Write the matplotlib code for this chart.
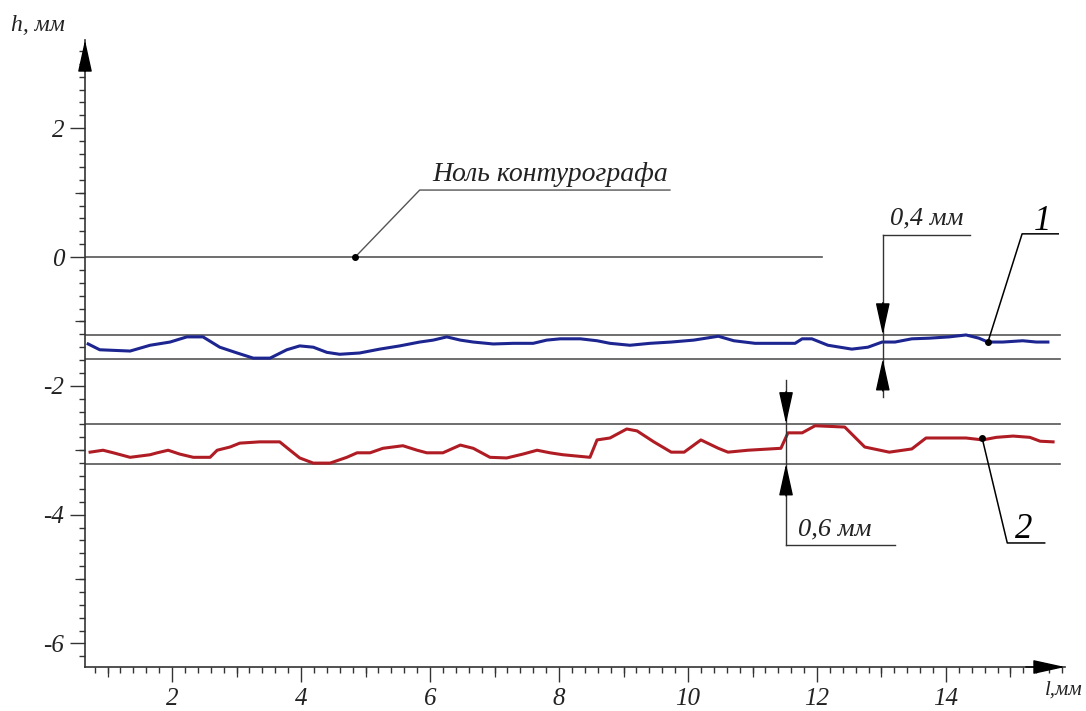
import numpy as np
import matplotlib
matplotlib.use("Agg")
import matplotlib.pyplot as plt

plt.rcParams["axes.unicode_minus"] = False
plt.rcParams["font.family"] = ["Liberation Serif", "DejaVu Serif"]
plt.rcParams["font.style"] = "italic"

# profile 1 (blue), l in mm / h in mm
l1 = [0.70, 0.88, 1.35, 1.66, 1.97, 2.23, 2.48, 2.74, 3.01, 3.26, 3.52, 3.78,
      3.98, 4.19, 4.40, 4.60, 4.91, 5.22, 5.53, 5.84, 6.05, 6.26, 6.47, 6.67,
      6.98, 7.29, 7.60, 7.81, 8.02, 8.33, 8.59, 8.79, 9.10, 9.41, 9.74, 10.09,
      10.47, 10.71, 11.04, 11.35, 11.66, 11.77, 11.92, 12.17, 12.54, 12.79,
      13.01, 13.21, 13.47, 13.74, 14.05, 14.31, 14.51, 14.65, 14.88, 15.19,
      15.40, 15.58]
h1 = [-1.35, -1.44, -1.46, -1.37, -1.32, -1.24, -1.24, -1.40, -1.49, -1.57,
      -1.57, -1.44, -1.38, -1.40, -1.48, -1.51, -1.49, -1.43, -1.38, -1.32,
      -1.29, -1.24, -1.29, -1.32, -1.35, -1.34, -1.34, -1.29, -1.27, -1.27,
      -1.30, -1.34, -1.37, -1.34, -1.32, -1.29, -1.23, -1.30, -1.34, -1.34,
      -1.34, -1.27, -1.27, -1.37, -1.43, -1.40, -1.32, -1.32, -1.27, -1.26,
      -1.24, -1.21, -1.26, -1.32, -1.32, -1.30, -1.32, -1.32]

# profile 2 (red)
l2 = [0.73, 0.93, 1.09, 1.35, 1.66, 1.77, 1.94, 2.12, 2.33, 2.59, 2.70, 2.90,
      3.05, 3.36, 3.67, 3.83, 3.98, 4.19, 4.45, 4.71, 4.87, 5.07, 5.27, 5.58,
      5.80, 5.95, 6.20, 6.47, 6.67, 6.93, 7.19, 7.44, 7.66, 7.86, 8.06, 8.48,
      8.59, 8.79, 9.05, 9.21, 9.47, 9.74, 9.94, 10.20, 10.47, 10.62, 10.93,
      11.44, 11.55, 11.77, 11.97, 12.43, 12.59, 12.74, 13.12, 13.47, 13.69,
      14.00, 14.31, 14.57, 14.78, 15.04, 15.30, 15.46, 15.66]
h2 = [-3.03, -3.00, -3.04, -3.11, -3.07, -3.04, -3.00, -3.06, -3.11, -3.11,
      -3.00, -2.95, -2.89, -2.87, -2.87, -3.00, -3.12, -3.20, -3.20, -3.11,
      -3.04, -3.04, -2.97, -2.93, -3.00, -3.04, -3.04, -2.92, -2.97, -3.11,
      -3.12, -3.06, -3.00, -3.04, -3.07, -3.11, -2.84, -2.81, -2.67, -2.70,
      -2.87, -3.03, -3.03, -2.84, -2.97, -3.03, -3.00, -2.97, -2.73, -2.73,
      -2.62, -2.64, -2.80, -2.95, -3.03, -2.98, -2.81, -2.81, -2.81, -2.84,
      -2.80, -2.78, -2.80, -2.86, -2.87]

# envelope lines of each profile
band1 = [-1.21, -1.58]
band2 = [-2.59, -3.21]
band_end = 15.77
zero_end = 12.08

x_ticks = [2, 4, 6, 8, 10, 12, 14]
y_ticks = [-6, -4, -2, 0, 2]
x_tick_labels = ["2", "4", "6", "8", "10", "12", "14"]
y_tick_labels = ["-6", "-4", "-2", "0", "2"]

fig = plt.figure(figsize=(10.86, 7.11), dpi=100)
ax = fig.add_axes([85 / 1086, 44 / 711, 980 / 1086, 627 / 711])
ax.set_xlim(0.651, 15.845)
ax.set_ylim(-6.366, 3.370)

for s in ["top", "right"]:
    ax.spines[s].set_visible(False)
for s in ["left", "bottom"]:
    ax.spines[s].set_color("#333333")
    ax.spines[s].set_linewidth(1.2)

ax.set_xticks(x_ticks)
ax.set_xticklabels(x_tick_labels)
ax.set_yticks(y_ticks)
ax.set_yticklabels(y_tick_labels)
ax.xaxis.set_minor_locator(matplotlib.ticker.MultipleLocator(0.2))
ax.yaxis.set_minor_locator(matplotlib.ticker.MultipleLocator(0.2))
ax.tick_params(which="major", length=11, width=1, color="#333333",
               labelsize=18, pad=4, labelcolor="#222222")
ax.tick_params(which="minor", length=4, width=1, color="#333333")

# medium ticks at odd values
secx = ax.secondary_xaxis("bottom")
secx.set_xticks([1, 3, 5, 7, 9, 11, 13, 15])
secx.tick_params(length=7, width=0.9, color="#333333", labelbottom=False)
secx.spines["bottom"].set_visible(False)
secy = ax.secondary_yaxis("left")
secy.set_yticks([-5, -3, -1, 1])
secy.tick_params(length=7, width=0.9, color="#333333", labelleft=False)
secy.spines["left"].set_visible(False)

# arrow heads on the axes
arrow_kw = dict(arrowstyle="-|>,head_length=1.0,head_width=0.22",
                color="black", lw=1, shrinkA=0, shrinkB=0, mutation_scale=20)
ax.annotate("", xy=(1, 0), xytext=(0.96, 0), xycoords="axes fraction",
            arrowprops=arrow_kw, annotation_clip=False)
ax.annotate("", xy=(0, 1), xytext=(0, 0.95), xycoords="axes fraction",
            arrowprops=arrow_kw, annotation_clip=False)

ax.text(-0.50, 3.6, "h, мм", fontsize=17, va="center", ha="left",
        color="#222222")
ax.text(15.53, -6.8, "l,мм", fontsize=15, va="baseline", ha="left",
        color="#222222")

# zero line of the profilometer
ax.plot([0.651, zero_end], [0, 0], color="#555555", lw=1.2)
ax.plot([4.84, 5.84, 9.72], [0, 1.04, 1.04], color="#555555", lw=1)
ax.plot(4.84, 0, "o", color="black", ms=4)
ax.text(6.03, 1.18, "Ноль контурографа", fontsize=20, ha="left",
        va="baseline", color="#222222")

# envelope lines
for b in band1 + band2:
    ax.plot([0.651, band_end], [b, b], color="#555555", lw=1.2)

# profiles
ax.plot(l1, h1, color="#1c2590", lw=2.2)
ax.plot(l2, h2, color="#b01c24", lw=2.2)

# dimension 0,4
head_kw = dict(arrowstyle="-|>,head_length=1.0,head_width=0.22",
               color="black", lw=1, shrinkA=0, shrinkB=0, mutation_scale=20)
ax.plot([13.02, 13.02], [-2.17, 0.34], color="#333333", lw=1)
ax.plot([13.02, 14.37], [0.34, 0.34], color="#333333", lw=1)
ax.annotate("", xy=(13.02, band1[0]), xytext=(13.02, band1[0] + 0.5),
            arrowprops=head_kw)
ax.annotate("", xy=(13.02, band1[1]), xytext=(13.02, band1[1] - 0.5),
            arrowprops=head_kw)
ax.text(13.13, 0.5, "0,4 мм", fontsize=19, ha="left", va="baseline",
        color="#222222")

# dimension 0,6
ax.plot([11.52, 11.52], [-1.91, -4.47], color="#333333", lw=1)
ax.plot([11.52, 13.21], [-4.47, -4.47], color="#333333", lw=1)
ax.annotate("", xy=(11.52, band2[0]), xytext=(11.52, band2[0] + 0.5),
            arrowprops=head_kw)
ax.annotate("", xy=(11.52, band2[1]), xytext=(11.52, band2[1] - 0.5),
            arrowprops=head_kw)
ax.text(11.70, -4.32, "0,6 мм", fontsize=19, ha="left", va="baseline",
        color="#222222")

# leaders 1 and 2
ax.plot([14.65, 15.18, 15.74], [-1.32, 0.36, 0.36], color="black", lw=1.1)
ax.plot(14.65, -1.32, "o", color="black", ms=4)
ax.text(15.5, 0.42, "1", fontsize=25, ha="center", va="baseline")
ax.plot([14.56, 14.95, 15.53], [-2.81, -4.44, -4.44], color="black", lw=1.1)
ax.plot(14.56, -2.81, "o", color="black", ms=4)
ax.text(15.21, -4.36, "2", fontsize=25, ha="center", va="baseline")

fig.savefig("out.png", dpi=100)
